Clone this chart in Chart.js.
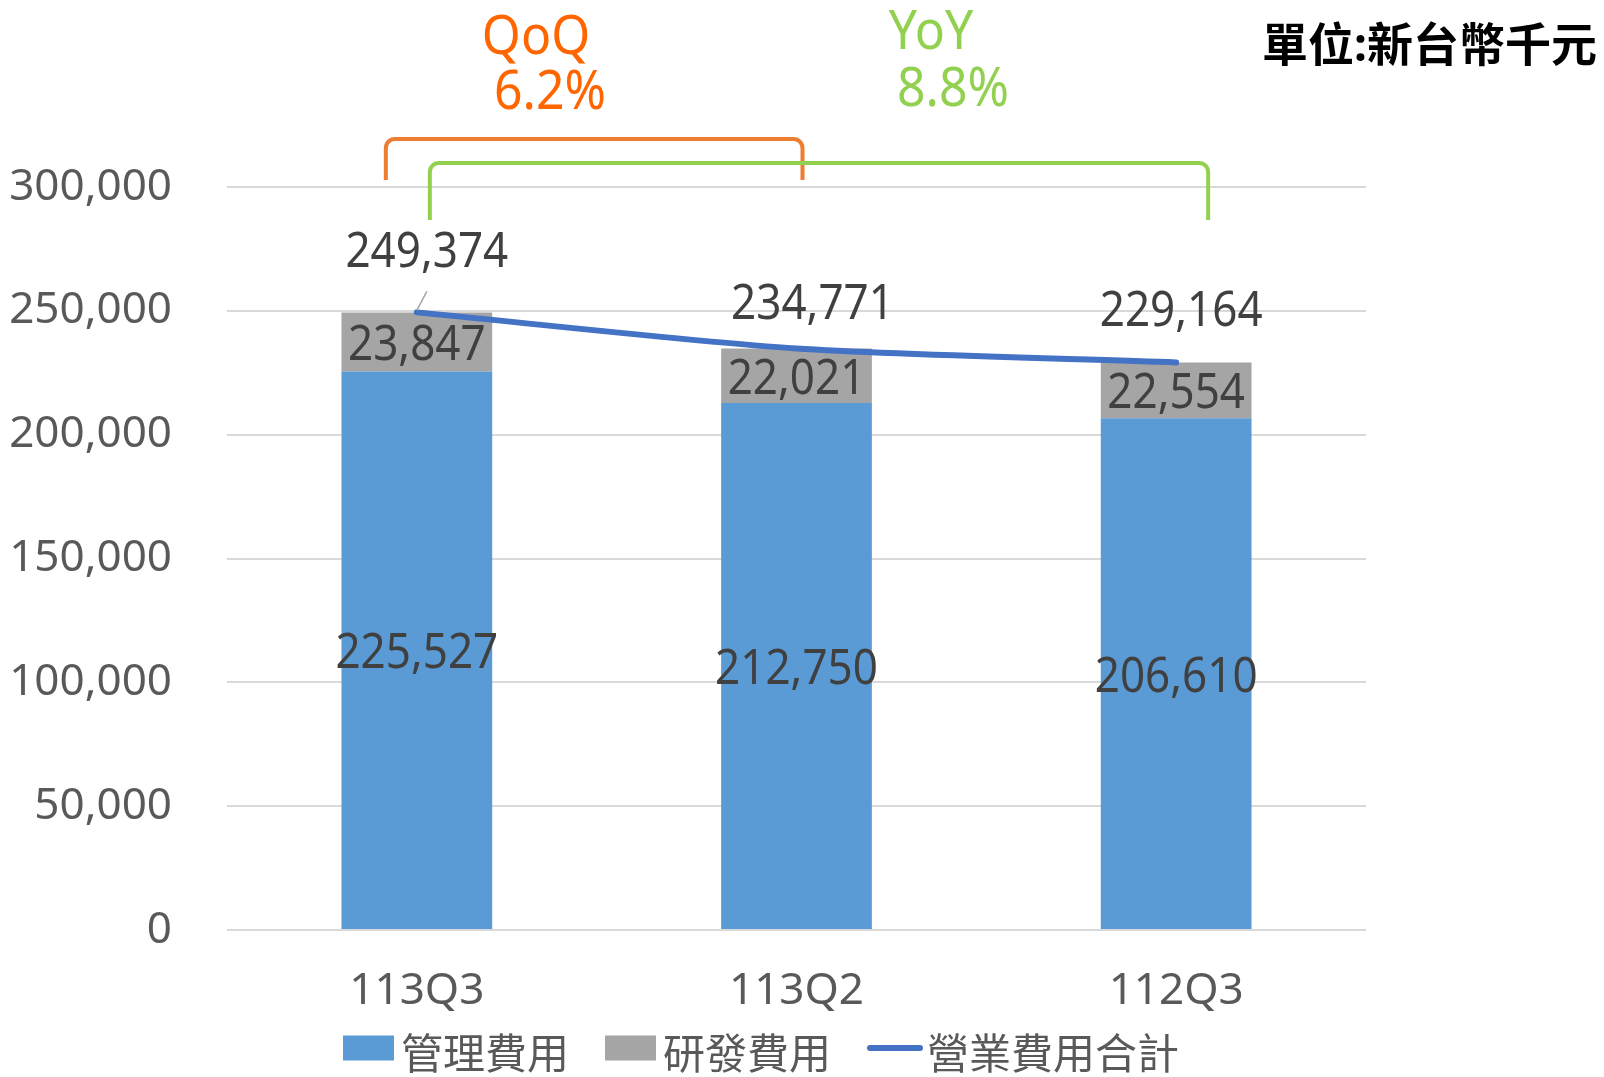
<!DOCTYPE html>
<html>
<head>
<meta charset="utf-8">
<script src="https://cdn.jsdelivr.net/npm/chart.js@4.4.1/dist/chart.umd.min.js"></script>
<style>
  html, body { margin: 0; padding: 0; background: #fff; }
  #wrap { width: 1604px; height: 1077px; position: relative; }
</style>
</head>
<body>
<div id="wrap"><canvas id="expenseChart"></canvas></div>
<script>
const quarters = ['113Q3', '113Q2', '112Q3'];
const adminCost = [225527, 212750, 206610];
const rdCost = [23847, 22021, 22554];
const totalCost = [249374, 234771, 229164];
const seriesNames = ['管理費用', '研發費用', '營業費用合計'];
const yTicks = [0, 50000, 100000, 150000, 200000, 250000, 300000];
const unitText = '單位:新台幣千元';
const qoqText = ['QoQ', '6.2%'];
const yoyText = ['YoY', '8.8%'];

const FONT = '"Noto Sans", "Noto Sans CJK TC", sans-serif';
const fmt = (v) => Number(v).toLocaleString('en-US');

// hand-placed total labels in the original, nudged from the line point
const totalLabelShift = [[10, -59], [16, -44], [5, -50]];

function bracket(ctx, x1, x2, top, bottom, color) {
  const r = 9;
  ctx.strokeStyle = color;
  ctx.lineWidth = 4;
  ctx.beginPath();
  ctx.moveTo(x1, bottom);
  ctx.arcTo(x1, top, x2, top, r);
  ctx.arcTo(x2, top, x2, bottom, r);
  ctx.lineTo(x2, bottom);
  ctx.stroke();
}

// slightly taller text, like the narrow digits in the original
function tallText(ctx, text, x, y, sy) {
  ctx.save();
  ctx.translate(x, y);
  ctx.scale(1, sy);
  ctx.fillText(text, 0, 0);
  ctx.restore();
}

const overlay = {
  id: 'overlay',
  afterDatasetsDraw(chart) {
    const { ctx } = chart;
    ctx.save();
    ctx.font = `44px ${FONT}`;
    ctx.fillStyle = '#404040';
    ctx.textAlign = 'center';
    ctx.textBaseline = 'middle';

    // values inside the stacked bars
    [0, 1].forEach((di) => {
      chart.getDatasetMeta(di).data.forEach((bar, i) => {
        const v = chart.data.datasets[di].data[i];
        tallText(ctx, fmt(v), bar.x, (bar.y + bar.base) / 2 + 4, 1.12);
      });
    });

    // totals above the line
    const lineMeta = chart.getDatasetMeta(2);
    lineMeta.data.forEach((pt, i) => {
      const [dx, dy] = totalLabelShift[i];
      tallText(ctx, fmt(totalCost[i]), pt.x + dx, pt.y + dy, 1.12);
    });

    // leader line for the first total
    const p0 = lineMeta.data[0];
    ctx.strokeStyle = '#A6A6A6';
    ctx.lineWidth = 1.5;
    ctx.beginPath();
    ctx.moveTo(p0.x, p0.y - 2);
    ctx.lineTo(p0.x + 10, p0.y - 21);
    ctx.stroke();
    ctx.restore();
  },
  afterDraw(chart) {
    const { ctx, chartArea, scales: { x, y } } = chart;
    const top = y.getPixelForValue(300000);
    ctx.save();

    // QoQ / YoY brackets
    bracket(ctx, x.getPixelForValue(0) - 31, x.getPixelForValue(1) + 6, top - 48, top - 7, '#ED7D31');
    bracket(ctx, x.getPixelForValue(0) + 13, x.getPixelForValue(2) + 32, top - 24, top + 33, '#92D050');

    ctx.textAlign = 'center';
    ctx.textBaseline = 'middle';
    ctx.font = `50px ${FONT}`;
    ctx.fillStyle = '#FF6600';
    tallText(ctx, qoqText[0], 536, 38, 1.1);
    tallText(ctx, qoqText[1], 550, 93, 1.1);
    ctx.fillStyle = '#92D050';
    tallText(ctx, yoyText[0], 931, 33, 1.1);
    tallText(ctx, yoyText[1], 953, 90, 1.1);

    // unit note
    ctx.textAlign = 'right';
    ctx.fillStyle = '#000';
    ctx.font = `bold 46px ${FONT}`;
    ctx.fillText(unitText, 1597, 48);

    // legend
    ctx.textAlign = 'left';
    ctx.font = `42px ${FONT}`;
    let lx = chartArea.left + 116;
    const ly = 1048;
    chart.data.datasets.forEach((ds) => {
      if (ds.type === 'line') {
        ctx.strokeStyle = ds.borderColor;
        ctx.lineWidth = 6;
        ctx.lineCap = 'round';
        ctx.beginPath();
        ctx.moveTo(lx + 3, ly);
        ctx.lineTo(lx + 53, ly);
        ctx.stroke();
        lx += 60;
      } else {
        ctx.fillStyle = ds.backgroundColor;
        ctx.fillRect(lx, ly - 12.5, 51, 25);
        lx += 58;
      }
      ctx.fillStyle = '#595959';
      ctx.fillText(ds.label, lx, ly + 9);
      lx += ctx.measureText(ds.label).width + 36;
    });
    ctx.restore();
  },
};

new Chart(document.getElementById('expenseChart'), {
  data: {
    labels: quarters,
    datasets: [
      {
        type: 'bar',
        label: seriesNames[0],
        data: adminCost,
        backgroundColor: '#5B9BD5',
        categoryPercentage: 1,
        barPercentage: 0.397,
        order: 2,
      },
      {
        type: 'bar',
        label: seriesNames[1],
        data: rdCost,
        backgroundColor: '#A5A5A5',
        categoryPercentage: 1,
        barPercentage: 0.397,
        order: 2,
      },
      {
        type: 'line',
        label: seriesNames[2],
        data: totalCost,
        stack: 'total',
        borderColor: '#4472C4',
        borderWidth: 6,
        borderCapStyle: 'round',
        tension: 0.25,
        pointRadius: 0,
        order: 1,
      },
    ],
  },
  options: {
    responsive: true,
    maintainAspectRatio: false,
    animation: false,
    layout: { padding: { left: 0, right: 238, top: 187, bottom: 0 } },
    plugins: { legend: { display: false }, tooltip: { enabled: false } },
    scales: {
      x: {
        stacked: true,
        grid: { display: false, drawTicks: false },
        border: { display: false },
        ticks: { color: '#595959', font: { family: FONT, size: 44 }, padding: 35 },
        afterFit: (s) => { s.height = 147; },
      },
      y: {
        stacked: true,
        min: 0,
        max: 300000,
        border: { display: false },
        grid: { color: '#D9D9D9', lineWidth: 2, drawTicks: false },
        ticks: { color: '#595959', font: { family: FONT, size: 44 }, padding: 55, callback: fmt },
        afterBuildTicks: (s) => { s.ticks = yTicks.map((v) => ({ value: v })); },
        afterFit: (s) => { s.width = 227; },
      },
    },
  },
  plugins: [overlay],
});
</script>
</body>
</html>
